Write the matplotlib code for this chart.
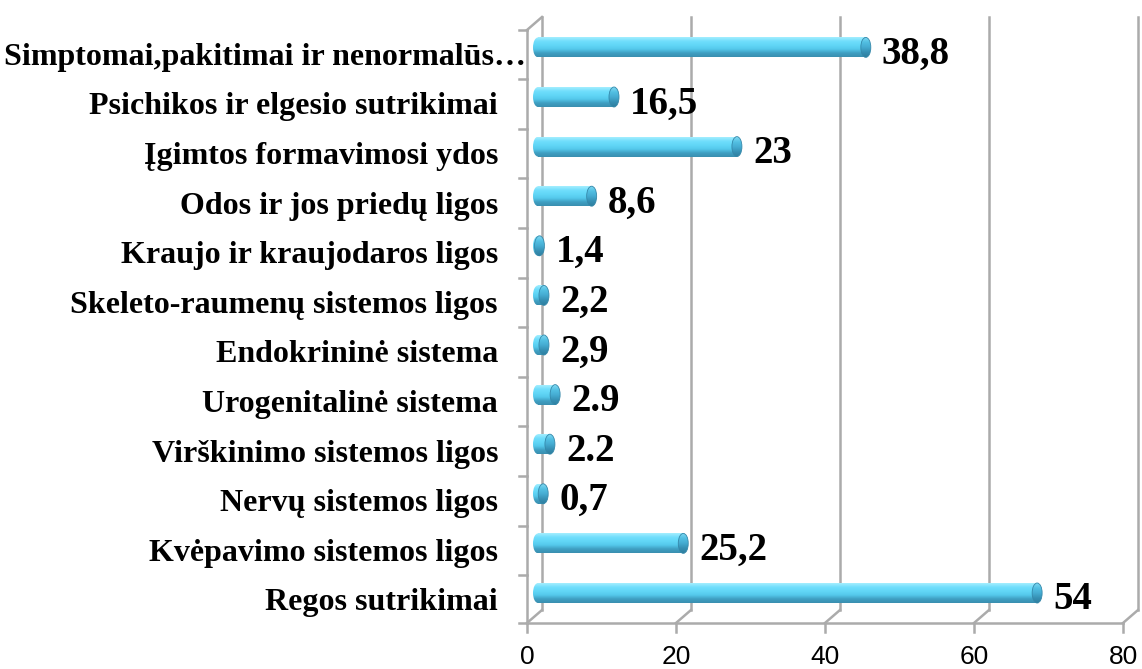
import matplotlib
matplotlib.use('Agg')
import numpy as np
import matplotlib.pyplot as plt
from matplotlib.patches import Ellipse
from matplotlib.colors import LinearSegmentedColormap

# Categories from bottom to top
categories = ['Regos sutrikimai', 'Kvėpavimo sistemos ligos', 'Nervų sistemos ligos',
              'Virškinimo sistemos ligos', 'Urogenitalinė sistema', 'Endokrininė sistema',
              'Skeleto-raumenų sistemos ligos', 'Kraujo ir kraujodaros ligos',
              'Odos ir jos priedų ligos', 'Įgimtos formavimosi ydos',
              'Psichikos ir elgesio sutrikimai', 'Simptomai,pakitimai ir nenormalūs…']
# bar lengths as drawn in the picture
bar_values = [67.0, 19.5, 0.7, 1.6, 2.3, 0.8, 0.8, 0.2, 7.2, 26.7, 10.2, 44.0]
# data labels as printed
value_labels = ['54', '25,2', '0,7', '2.2', '2.9', '2,9', '2,2', '1,4', '8,6', '23', '16,5', '38,8']
x_ticks = [0, 20, 40, 60, 80]

W, H = 1142, 669
fig = plt.figure(figsize=(W / 100, H / 100), dpi=100)
ax = fig.add_axes([0, 0, 1, 1])
ax.set_axis_off()

# pixel -> data: x=0 at 527 px, 7.45 px per unit; rows 49.6 px apart, Regos at 593 px
px_x, x0 = 7.45, 527
px_y, y0 = 49.6, 593

dx = 15 / px_x   # 3d depth shift
dy = 13 / px_y
front_bottom = -(623 - y0) / px_y
top = (y0 - 30) / px_y
grid_c = '#ababab'
lw = 1.8

# back wall gridlines, floor diagonals, tick marks and labels
for t in x_ticks:
    ax.plot([t + dx, t + dx], [front_bottom + dy, top + dy], color=grid_c, lw=lw, zorder=1)
    ax.plot([t, t + dx], [front_bottom, front_bottom + dy], color=grid_c, lw=lw, zorder=1)
    ax.plot([t, t], [front_bottom, front_bottom - 9 / px_y], color=grid_c, lw=lw, zorder=1)
    ax.text(t, -(657 - y0) / px_y, str(t), ha='center', va='center',
            fontsize=19, family='Liberation Sans', color='black')

# floor front edge and left wall
ax.plot([0, 80], [front_bottom, front_bottom], color=grid_c, lw=lw, zorder=1)
ax.plot([0, 0], [front_bottom, top], color=grid_c, lw=lw, zorder=1)
ax.plot([0, dx], [top, top + dy], color=grid_c, lw=lw, zorder=1)

# category ticks on left wall
n = len(categories)
for i in range(n + 1):
    yt = min(max(i - 0.5 - 0.14, front_bottom), top)
    ax.plot([-8 / px_x, 0], [yt, yt], color=grid_c, lw=lw, zorder=1)

body_cmap = LinearSegmentedColormap.from_list(
    'bar', ['#a4eeff', '#70defc', '#62d7f7', '#55c9ec', '#3f9fc2', '#3a8fb0'])
cap_cmap = LinearSegmentedColormap.from_list(
    'cap', ['#7fd8f2', '#52bfe2', '#45acd2', '#3690b4', '#2f7f9f'])
grad = np.linspace(0, 1, 64).reshape(-1, 1)

bar_h = 20 / px_y
bar_left = 11 / px_x
cap_w = 10 / px_x
for i, (v, lab) in enumerate(zip(bar_values, value_labels)):
    right = bar_left + v
    b, t = i - bar_h / 2, i + bar_h / 2
    # body with vertical shading
    ax.imshow(grad, extent=[bar_left, right, b, t], origin='upper', aspect='auto',
              cmap=body_cmap, interpolation='bilinear', zorder=3)
    # rounded left end
    left_end = Ellipse((bar_left, i), cap_w, bar_h, facecolor='none', edgecolor='none')
    ax.add_patch(left_end)
    im = ax.imshow(grad, extent=[bar_left - cap_w / 2, bar_left, b, t], origin='upper',
                   aspect='auto', cmap=body_cmap, interpolation='bilinear', zorder=3)
    im.set_clip_path(left_end)
    # darker end cap on the right
    right_end = Ellipse((right, i), cap_w, bar_h, facecolor='none', edgecolor='#3588aa',
                        lw=0.6, zorder=5)
    ax.add_patch(right_end)
    im = ax.imshow(grad, extent=[right - cap_w / 2, right + cap_w / 2, b, t], origin='upper',
                   aspect='auto', cmap=cap_cmap, interpolation='bilinear', zorder=4)
    im.set_clip_path(right_end)

    ax.text(right + cap_w / 2 + 11 / px_x, i - 0.33, lab, ha='left', va='baseline', fontsize=28,
            family='Liberation Serif', fontweight='bold', zorder=6)
    # the long truncated label runs over the axis, as in the source
    lx = 526 if categories[i].endswith('…') else 498
    ax.text((lx - x0) / px_x, i - 0.35, categories[i], ha='right', va='baseline', fontsize=23,
            family='Liberation Serif', fontweight='bold', zorder=6)

ax.set_xlim(-x0 / px_x, (W - x0) / px_x)
ax.set_ylim((y0 - H) / px_y, y0 / px_y)

fig.savefig('out.png', dpi=100)
